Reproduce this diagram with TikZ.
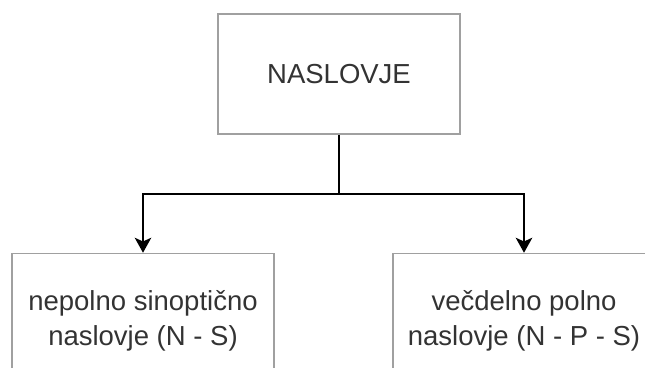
\documentclass[tikz,border=0pt]{standalone}
\usepackage{fontspec}
\setmainfont{Liberation Sans}
\usetikzlibrary{positioning,calc,arrows.meta}

\definecolor{boxline}{HTML}{A0A0A0}
\definecolor{boxtext}{HTML}{333333}

\tikzset{
    box/.style={draw=boxline, line width=0.6pt, inner sep=0pt, align=center,
        text=boxtext, font=\fontsize{11}{14}\selectfont},
    link/.style={line width=0.8pt, black},
    arrow/.style={link, -{Stealth[length=6pt, width=6.6pt, inset=1.5pt]}}
}

\begin{document}
\begin{tikzpicture}[x=0.4pt, y=-0.4pt]
    \useasboundingbox (0,0) rectangle (645,367);
    \clip (0,0) rectangle (645,367);

    \node[box, minimum width=96.8pt, minimum height=48pt] (title) at (339,74) {NASLOVJE};
    \node[box, minimum width=104.8pt, minimum height=54pt] (nsn) at (143,321) {nepolno sinoptično\\naslovje (N - S)};
    \node[box, minimum width=104.8pt, minimum height=54pt] (vpn) at (524,321) {večdelno polno\\naslovje (N - P - S)};

    \coordinate (split) at (339,194); % branch point
    \draw[link] (title.south) -- (split);
    \draw[arrow] (split) -| (nsn.north);
    \draw[arrow] (split) -| (vpn.north);
\end{tikzpicture}
\end{document}
